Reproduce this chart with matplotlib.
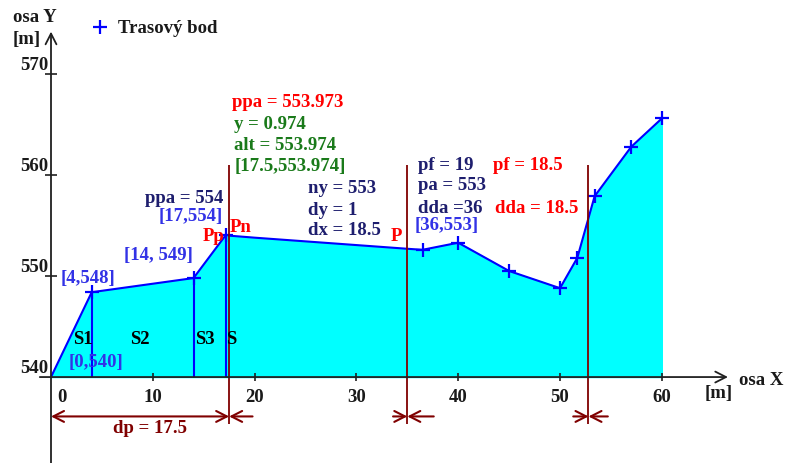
import matplotlib.pyplot as plt

# profile of the route (x in m, height in m)
prof_x = [0, 4, 14, 17.2, 17.5, 20, 35, 36.5, 40, 45, 50, 51.7, 53.4, 57, 60]
prof_y = [540, 548.4, 549.8, 554.1, 554.0, 553.8, 552.7, 552.6, 553.3, 550.5, 548.8, 551.8, 557.9, 562.8, 565.6]

# route points (Trasovy bod)
pt_x = [4, 14, 17.2, 36.5, 40, 45, 50, 51.7, 53.4, 57, 60]
pt_y = [548.4, 549.8, 554.1, 552.6, 553.3, 550.5, 548.8, 551.8, 557.9, 562.8, 565.6]

# section lines and marker lines
sect_x = [4, 14, 17.2]
sect_top = [548.4, 549.8, 554.1]
mark_x = [17.5, 35, 52.8]

xticks = [10, 20, 30, 40, 50, 60]
yticks = [540, 550, 560, 570]

serif = 'Liberation Serif'
fs = 13.5
navy = '#1e1e6e'
blue = '#3232e6'
green = '#1a7a1a'
dred = '#800000'

fig = plt.figure(figsize=(7.87, 4.64), dpi=100)
ax = fig.add_axes([0, 0, 1, 1])
ax.set_xlim(-5.01, 72.3)
ax.set_ylim(531.49, 577.43)
ax.axis('off')

# filled profile
ax.fill_between(prof_x, 540, prof_y, color='#00ffff', zorder=1)
ax.plot(prof_x, prof_y, color='#0000ff', lw=1.5, zorder=3)
ax.plot(pt_x, pt_y, '+', color='#0000ff', ms=10, mew=1.6, zorder=4)
ax.vlines(sect_x, 540, sect_top, color='#0000ff', lw=1.5, zorder=3)
ax.vlines(mark_x, 535.35, 561.0, color=dred, lw=1.3, zorder=5)

# axes with arrows
head = '->,head_length=0.55,head_width=0.28'
ax.annotate('', xy=(66.5, 540), xytext=(-1.1, 540),
            arrowprops=dict(arrowstyle=head, color='#202020', lw=1.3,
                            shrinkA=0, shrinkB=0, mutation_scale=14), zorder=6)
ax.annotate('', xy=(0, 574.2), xytext=(0, 531.5),
            arrowprops=dict(arrowstyle=head, color='#202020', lw=1.3,
                            shrinkA=0, shrinkB=0, mutation_scale=14), zorder=6)
ax.vlines(xticks, 539.6, 540.4, color='#202020', lw=1.2, zorder=6)
ax.hlines(yticks[1:], -0.55, 0.55, color='#202020', lw=1.2, zorder=6)

tk = dict(family=serif, fontsize=fs, fontweight='bold', color='#1a1a1a')
ax.text(1.08, 538.12, '0', ha='center', va='center', **tk)
for t in xticks:
    ax.text(t, 538.12, str(t), ha='center', va='center', **tk)
for t in yticks:
    ax.text(-0.29, t + 0.95, str(t), ha='right', va='center', **tk)
ax.text(-3.74, 575.74, 'osa Y', ha='left', va='center', **tk)
ax.text(-3.74, 573.56, '[m]', ha='left', va='center', **tk)
ax.text(67.58, 539.8, 'osa X', ha='left', va='center', **tk)
ax.text(64.24, 538.51, '[m]', ha='left', va='center', **tk)

# legend
ax.plot([4.81], [574.65], '+', color='#0000ff', ms=10, mew=1.6)
ax.text(6.58, 574.65, 'Trasový bod', ha='left', va='center', **tk)

# dimension lines
arr = dict(arrowstyle=head, color=dred, lw=1.5, shrinkA=0, shrinkB=0, mutation_scale=14)
dim_y = 536.1
ax.annotate('', xy=(0, dim_y), xytext=(17.5, dim_y),
            arrowprops=dict(arrowstyle='<->,head_length=0.55,head_width=0.28', color=dred,
                            lw=1.5, shrinkA=0, shrinkB=0, mutation_scale=14))
ax.annotate('', xy=(17.5, dim_y), xytext=(19.8, dim_y), arrowprops=arr)
ax.annotate('', xy=(35, dim_y), xytext=(33.6, dim_y), arrowprops=arr)
ax.annotate('', xy=(35, dim_y), xytext=(37.6, dim_y), arrowprops=arr)
ax.annotate('', xy=(52.8, dim_y), xytext=(51.3, dim_y), arrowprops=arr)
ax.annotate('', xy=(52.8, dim_y), xytext=(54.7, dim_y), arrowprops=arr)
ax.text(9.72, 535.05, 'dp = 17.5', ha='center', va='center',
        family=serif, fontsize=fs, fontweight='bold', color=dred)

# annotations
def lab(x, y, s, c, ha='left'):
    ax.text(x, y, s, ha=ha, va='center', family=serif, fontsize=fs,
            fontweight='bold', color=c, zorder=7)

lab(17.78, 567.33, 'ppa = 553.973', 'red')
lab(17.98, 565.15, 'y = 0.974', green)
lab(17.98, 563.07, 'alt = 553.974', green)
lab(18.07, 560.99, '[17.5,553.974]', green)
lab(25.25, 558.81, 'ny = 553', navy)
lab(25.25, 556.63, 'dy = 1', navy)
lab(25.25, 554.65, 'dx = 18.5', navy)
lab(16.9, 557.8, 'ppa = 554', navy, 'right')
lab(16.9, 555.95, '[17,554]', blue, 'right')
lab(17.0, 554.05, 'Pp', 'red', 'right')
lab(17.58, 554.95, 'Pn', 'red')
lab(33.89, 554.06, 'P', 'red', 'center')
lab(13.95, 552.18, '[14, 549]', blue, 'right')
lab(0.98, 549.9, '[4,548]', blue)
lab(1.77, 541.49, '[0,540]', blue)
for sx, s in zip([3.14, 8.74, 15.13, 17.68], ['S1', 'S2', 'S3', 'S']):
    lab(sx, 543.86, s, 'black', 'center')
lab(36.05, 561.09, 'pf = 19', navy)
lab(43.42, 561.09, 'pf = 18.5', 'red')
lab(36.05, 559.11, 'pa = 553', navy)
lab(36.05, 556.83, 'dda =36', navy)
lab(43.61, 556.83, 'dda = 18.5', 'red')
lab(35.76, 555.15, '[36,553]', blue)

fig.savefig('out.png', dpi=100)
